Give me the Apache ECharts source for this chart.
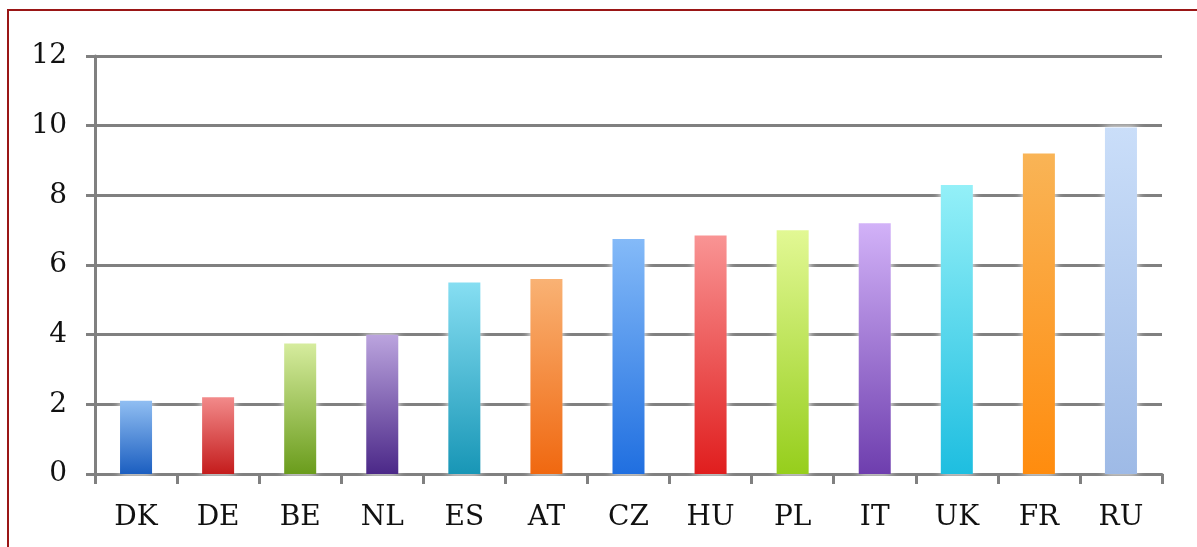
<!DOCTYPE html>
<html>
<head>
<meta charset="utf-8">
<script src="https://cdn.jsdelivr.net/npm/echarts@6/dist/echarts.min.js"></script>
<style>
html,body{margin:0;padding:0;background:#fff;overflow:hidden;}
#frame{position:absolute;left:7px;top:9px;width:1400px;height:700px;border:2px solid #9a1616;box-sizing:border-box;}
#chart{position:absolute;left:0;top:0;width:1197px;height:547px;}
</style>
</head>
<body>
<div id="frame"></div>
<div id="chart"></div>
<script>
const categories = ['DK','DE','BE','NL','ES','AT','CZ','HU','PL','IT','UK','FR','RU'];
const values = [2.1, 2.2, 3.75, 4.0, 5.5, 5.6, 6.75, 6.85, 7.0, 7.2, 8.3, 9.2, 9.95];
const topColors = ['#90bef2','#f28a8a','#d6ec9e','#bba4de','#86def2','#f9b274','#84baf8','#f99494','#e2f894','#d2b2f8','#94f0f8','#f9b456','#cadef9'];
const bottomColors = ['#1b5ec0','#c41c1c','#6a9c1c','#4b2888','#1896b6','#f06810','#206fe0','#e01e1e','#96ce1c','#6e3eae','#1ebee0','#ff8c0e','#9ebae6'];
const yTicks = [0, 2, 4, 6, 8, 10, 12];

const chart = echarts.init(document.getElementById('chart'));
const data = values.map((v, i) => ({
  value: v,
  itemStyle: {
    color: new echarts.graphic.LinearGradient(0, 0, 0, 1, [
      {offset: 0, color: topColors[i]},
      {offset: 1, color: bottomColors[i]}
    ])
  }
}));
chart.setOption({
  animation: false,
  grid: {left: 95, right: 35, top: 56, bottom: 73, containLabel: false},
  xAxis: {
    type: 'category',
    data: categories,
    axisLine: {lineStyle: {color: '#808080', width: 3}},
    axisTick: {show: true, length: 10, lineStyle: {color: '#808080', width: 3}},
    axisLabel: {fontFamily: 'DejaVu Serif', fontSize: 28, color: '#111', margin: 30}
  },
  yAxis: {
    type: 'value',
    min: yTicks[0], max: yTicks[yTicks.length - 1], interval: 2,
    axisLine: {show: true, lineStyle: {color: '#808080', width: 3}},
    axisTick: {show: true, length: 9, lineStyle: {color: '#808080', width: 3}},
    splitLine: {show: true, lineStyle: {color: '#808080', width: 3}},
    axisLabel: {fontFamily: 'DejaVu Serif', fontSize: 28, color: '#111', margin: 28}
  },
  series: [{
    type: 'bar',
    data: data,
    barWidth: '39%',
    itemStyle: {shadowBlur: 8, shadowColor: 'rgba(255,255,255,1)'}
  }]
});
</script>
</body>
</html>
